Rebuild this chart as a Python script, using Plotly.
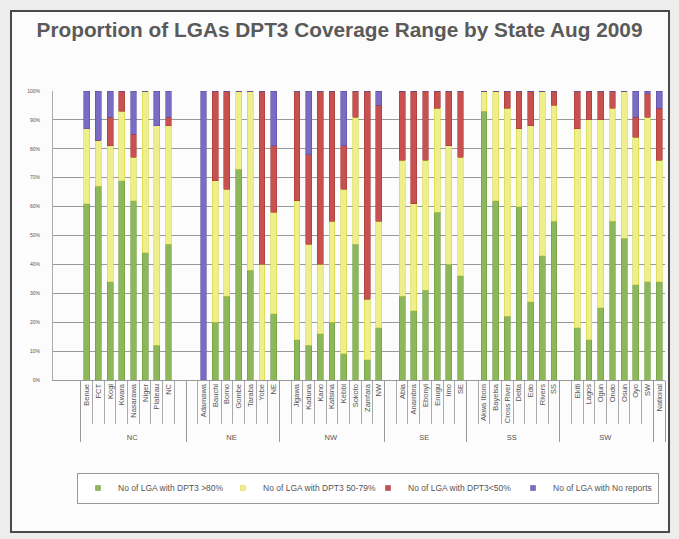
import plotly.graph_objects as go

# ---- data ----
zones = ["NC", "NE", "NW", "SE", "SS", "SW", " "]
states = {
    "NC": ["Benue", "FCT", "Kogi", "Kwara", "Nasarawa", "Niger", "Plateau", "NC"],
    "NE": ["Adamawa", "Bauchi", "Borno", "Gombe", "Taraba", "Yobe", "NE"],
    "NW": ["Jigawa", "Kaduna", "Kano", "Katsina", "Kebbi", "Sokoto", "Zamfara", "NW"],
    "SE": ["Abia", "Anambra", "Ebonyi", "Enugu", "Imo", "SE"],
    "SS": ["Akwa Ibom", "Bayelsa", "Cross River", "Delta", "Edo", "Rivers", "SS"],
    "SW": ["Ekiti", "Lagos", "Ogun", "Ondo", "Osun", "Oyo", "SW"],
    " ": ["National"],
}
ge80 = {
    "NC": [61, 67, 34, 69, 62, 44, 12, 47],
    "NE": [0, 20, 29, 73, 38, 0, 23],
    "NW": [14, 12, 16, 20, 9, 47, 7, 18],
    "SE": [29, 24, 31, 58, 40, 36],
    "SS": [93, 62, 22, 60, 27, 43, 55],
    "SW": [18, 14, 25, 55, 49, 33, 34],
    " ": [34],
}
r50_79 = {
    "NC": [26, 16, 47, 24, 15, 56, 76, 41],
    "NE": [0, 49, 37, 27, 62, 40, 35],
    "NW": [48, 35, 24, 35, 57, 44, 21, 37],
    "SE": [47, 37, 45, 36, 41, 41],
    "SS": [7, 38, 72, 27, 61, 57, 40],
    "SW": [69, 76, 65, 39, 51, 51, 57],
    " ": [42],
}
lt50 = {
    "NC": [0, 0, 10, 7, 8, 0, 0, 3],
    "NE": [0, 31, 34, 0, 0, 60, 23],
    "NW": [38, 31, 60, 45, 15, 9, 72, 40],
    "SE": [24, 39, 24, 6, 19, 23],
    "SS": [0, 0, 6, 13, 12, 0, 5],
    "SW": [13, 10, 10, 6, 0, 7, 8],
    " ": [18],
}
no_rep = {
    "NC": [13, 17, 9, 0, 15, 0, 12, 9],
    "NE": [100, 0, 0, 0, 0, 0, 19],
    "NW": [0, 22, 0, 0, 19, 0, 0, 5],
    "SE": [0, 0, 0, 0, 0, 0],
    "SS": [0, 0, 0, 0, 0, 0, 0],
    "SW": [0, 0, 0, 0, 0, 9, 1],
    " ": [6],
}
series = [
    ("No of LGA with DPT3 >80%", ge80, "#8db85a", "#6d9a3c"),
    ("No of LGA with DPT3 50-79%", r50_79, "#eeee8a", "#d6d640"),
    ("No of LGA with DPT3<50%", lt50, "#c8504e", "#a33a38"),
    ("No of LGA with No reports", no_rep, "#7a6cc4", "#5a4ea0"),
]

# build multicategory x with an empty slot closing each zone group
def build(values):
    par, chi, val = [], [], []
    for z in zones:
        for s, v in zip(states[z], values[z]):
            par.append(z); chi.append(s); val.append(v)
        if z != " ":
            par.append(z); chi.append("\u200b"); val.append(None)
    return par, chi, val

fig = go.Figure()
for name, vals, col, edge in series:
    par, chi, val = build(vals)
    fig.add_trace(go.Bar(
        x=[par, chi], y=val, name=name, showlegend=False,
        marker=dict(color=col, line=dict(color=edge, width=0.6)),
    ))
# small square legend keys
for name, vals, col, edge in series:
    fig.add_trace(go.Scatter(
        x=[[zones[0]], [states[zones[0]][0]]], y=[None], mode="markers", name=name,
        marker=dict(symbol="square", size=5, color=col, line=dict(color=edge, width=0.5)),
    ))

W, H = 679, 539
L, R, T, B = 53, 14, 91, 159
pw, ph = W - L - R, H - T - B
def px(x): return (x - L) / pw
def py(y): return (H - B - y) / ph

fig.update_layout(
    width=W, height=H,
    barmode="stack", bargap=0.5,
    margin=dict(l=L, r=R, t=T, b=B, pad=0, autoexpand=False),
    paper_bgcolor="#ededed", plot_bgcolor="#fcfcfc",
    font=dict(family="Liberation Sans, Arial, sans-serif", color="#555"),
    title=dict(text="<b>Proportion of LGAs DPT3 Coverage Range by State Aug 2009</b>",
               x=0.5, xanchor="center", y=1 - 30 / H, yanchor="middle",
               font=dict(size=20.8, color="#5a5a5a")),
    showlegend=True,
    legend=dict(orientation="h", x=px(368), xanchor="center", y=py(488), yanchor="middle",
                font=dict(size=8.5, color="#555"), bgcolor="#ffffff",
                bordercolor="#999", borderwidth=1, entrywidth=100,
                traceorder="normal", itemwidth=30),
    shapes=[dict(type="rect", xref="paper", yref="paper",
                 x0=px(11), x1=px(669), y0=py(532), y1=py(11),
                 line=dict(color="#4a4a4a", width=2), fillcolor="#fcfcfc",
                 layer="below")],
)
fig.update_xaxes(
    type="multicategory", tickangle=-90,
    tickfont=dict(size=7.5, color="#555"),
    ticks="outside", tickson="boundaries", ticklen=43, tickcolor="#aaa",
    showdividers=True, dividercolor="#999", dividerwidth=1,
    showline=True, linecolor="#999", linewidth=1, showgrid=False,
)
fig.update_yaxes(
    range=[0, 100], tickvals=list(range(0, 101, 10)),
    ticktext=[f"{v}%" for v in range(0, 101, 10)],
    tickfont=dict(size=5, color="#555"), ticklabelstandoff=11,
    showgrid=True, gridcolor="#9a9a9a", gridwidth=1,
    showline=True, linecolor="#aaa", zeroline=False, ticks="",
)
fig.write_html("out.html", config={"displayModeBar": False},
               post_script="document.body.style.margin='0';")
